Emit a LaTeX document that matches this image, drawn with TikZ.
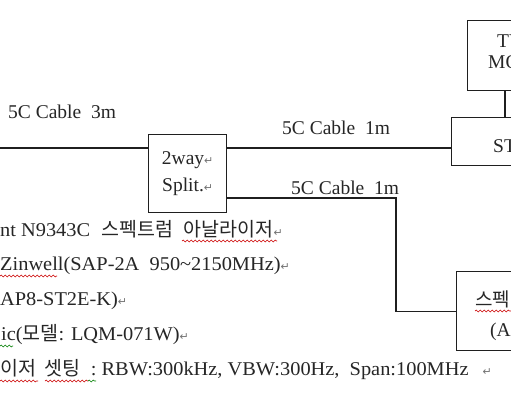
\documentclass[tikz,border=0pt]{standalone}
\usepackage{fontspec}
\setmainfont{Liberation Serif}
\newfontfamily\wideserif[FakeStretch=1.045]{Liberation Serif}
\newfontfamily\kr{Noto Sans CJK KR}
\newfontfamily\symf{DejaVu Sans}
\usetikzlibrary{decorations.pathmorphing}
\newcommand\ret{{\symf\fontsize{11}{11}\selectfont\textcolor{black!55}{↵}}}
\newcommand\krs[1]{{\kr\fontsize{19.5}{27}\selectfont #1}}
\begin{document}
\begin{tikzpicture}[x=1pt,y=-1pt,
  box/.style={draw=black!88, line width=1.3pt, inner sep=0pt, anchor=north west},
  wire/.style={draw=black!88, line width=1.2pt},
  txt/.style={anchor=base west, inner sep=0pt, text=black!85, font=\fontsize{19.5}{27}\selectfont},
  linetxt/.style={txt, font=\wideserif\fontsize{19.5}{27}\selectfont},
  krt/.style={txt, font=\kr\fontsize{19}{27}\selectfont},
  wavy/.style={draw=red!80!black, line width=0.6pt, decorate, decoration={snake, segment length=4pt, amplitude=0.9pt}},
  wavyg/.style={wavy, draw=green!50!black}]
\useasboundingbox (0,0) rectangle (511,400);
\clip (0,0) rectangle (511,400);
\fill[white] (0,0) rectangle (511,400);

% boxes
\node[box, minimum width=78pt, minimum height=78pt, align=center,
      font=\fontsize{19.5}{27}\selectfont, text=black!85] (split) at (148,134) {2way\ret\\Split.\ret};
\node[box, minimum width=120pt, minimum height=48pt] (stb) at (451,117) {};
\node[box, minimum width=80pt, minimum height=70pt] (tv) at (467,20) {};
\node[box, minimum width=120pt, minimum height=79pt] (spec) at (456,271) {};

% box texts
\node[txt] (stbt) at (493,152) {ST};
\node[txt] (tvt1) at (497,47) {TV};
\node[txt] (tvt2) at (488,68) {MO};
\node[krt] (spt1) at (475,306) {스펙};
\node[txt] (spt2) at (490,336) {(A};

% connectors
\coordinate (in) at (0,148);
\coordinate (low) at (0,198);
\coordinate (bend) at (396,198);
\coordinate (tvx) at (505,0);
\draw[wire] (in) -- (in -| split.west);
\draw[wire] (in -| split.east) -- (in -| stb.west);
\draw[wire] (low -| split.east) -- (bend) |- (spec.west);
\draw[wire] (tvx |- tv.south) -- (tvx |- stb.north);

% cable labels
\node[txt] (l1) at (8,118) {5C Cable\ \ 3m};
\node[txt] (l2) at (282,134) {5C Cable\ \ 1m};
\node[txt] (l3) at (291,194) {5C Cable\ \ 1m};

% text lines
\node[linetxt] (t1) at (0,236) {nt N9343C\hspace{11pt}\krs{스펙트럼}\hspace{11pt}\krs{아날라이저}\ret};
\node[linetxt] (t2) at (0,270) {Zinwell(SAP-2A\ \ 950\textasciitilde 2150MHz)\ret};
\node[linetxt] (t3) at (0,305) {AP8-ST2E-K)\ret};
\node[linetxt] (t4) at (1,340) {ic(\krs{모델}: LQM-071W)\ret};
\node[linetxt] (t5) at (0,375) {\krs{이저\ \ 셋팅}\ \ :\ RBW:300kHz,\ VBW:300Hz,\ \ Span:100MHz\hspace{14pt}\ret};

% spell-check underlines
\draw[wavy] (182,241) -- (277,241);
\draw[wavy] (0,276) -- (57,276);
\draw[wavyg] (0,346) -- (13,346);
\draw[wavy] (0,381) -- (38,381);
\draw[wavy] (45,381) -- (88,381);
\draw[wavyg] (88,381) -- (96,381);
\draw[wavy] (475,311) -- (511,311);
\end{tikzpicture}
\end{document}
